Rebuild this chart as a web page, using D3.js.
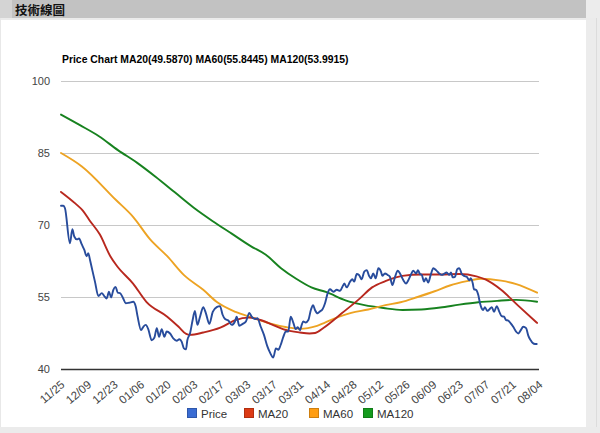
<!DOCTYPE html>
<html><head><meta charset="utf-8">
<script src="https://cdn.jsdelivr.net/npm/d3@7"></script>
<style>html,body{margin:0;padding:0;background:#fff;}svg{display:block;}</style>
</head><body>
<svg id="chart" width="600" height="433"></svg>
<script>
// ---- data ----
const headerText = "技術線圖";
const chartTitle = "Price Chart MA20(49.5870) MA60(55.8445) MA120(53.9915)";
const yTicks = [40, 55, 70, 85, 100];
const xTickLabels = ["11/25","12/09","12/23","01/06","01/20","02/03","02/17","03/03","03/17","03/31","04/14","04/28","05/12","05/26","06/09","06/23","07/07","07/21","08/04"];
const seriesNames = ["Price", "MA20", "MA60", "MA120"];

// days since 11/25
const priceDays = [0,1.2,2.1,4.7,6.0,7.0,8.4,9.5,10.9,12.3,13.5,14.4,15.3,16.5,17.9,19.7,21.5,22.8,24.1,25.3,26.4,27.6,28.8,29.9,31.1,32.8,34.1,35.9,38.1,39.4,40.4,42.2,43.4,44.7,46.0,47.8,49.2,50.5,51.7,53.1,54.5,55.7,57.5,59.2,61.0,62.4,63.6,64.8,65.9,66.6,68.0,69.4,70.6,71.9,73.3,75.0,76.4,78.2,80.0,82.1,83.8,85.2,86.5,88.2,90.0,91.7,92.6,94.0,95.8,97.5,99.3,100.5,102.3,103.5,105.3,107.0,108.8,110.2,111.9,113.3,114.6,115.8,117.2,118.6,119.8,121.1,122.5,123.7,124.8,126.0,126.9,127.7,129.0,130.4,131.8,132.9,133.9,135.3,136.5,137.8,139.2,140.6,141.8,143.6,145.4,147.1,148.3,149.4,150.6,152.4,153.6,154.6,155.9,157.1,158.5,159.9,161.2,162.4,163.4,164.6,165.9,167.3,168.7,169.4,170.8,172.2,173.4,174.7,176.1,177.5,178.7,180.5,181.9,183.1,184.4,185.7,187.2,188.2,189.2,190.2,191.4,192.4,193.6,194.9,196.3,197.7,199.4,200.7,201.9,203.3,204.7,205.6,206.5,207.7,208.9,210.0,211.3,212.5,213.9,215.3,216.0,217.1,217.7,218.8,220.0,220.9,221.8,222.6,223.5,224.7,225.8,227.1,228.3,229.7,231.1,232.3,233.6,234.6,235.8,237.1,238.4,239.9,241.1,242.4,243.7,245.2,246.4,247.6,248.7,249.9,250.8];
const priceValues = [74.0,74.0,73.5,66.2,69.1,67.6,67.0,67.2,66.0,64.8,63.5,64.1,62.7,60.6,58.2,55.2,55.8,55.2,54.7,56.1,54.9,56.5,57.1,55.9,55.8,54.7,53.7,53.8,54.0,53.0,50.9,48.1,48.8,49.2,48.3,46.0,46.5,48.5,46.7,48.3,46.7,47.8,47.4,46.4,45.9,46.2,45.7,44.3,44.1,46.0,47.4,50.2,52.1,49.2,50.9,52.9,51.6,49.4,51.9,52.9,53.1,51.3,50.4,50.1,49.2,49.9,50.9,49.0,49.4,49.9,51.7,50.9,50.4,50.6,48.8,47.1,44.7,43.4,42.4,44.3,44.0,45.0,46.7,47.8,47.8,50.9,49.6,48.3,48.7,48.1,49.2,49.9,49.7,50.2,52.4,53.3,52.3,51.6,52.0,52.4,53.7,55.8,56.6,56.1,56.5,56.3,57.1,57.8,57.0,58.2,58.7,58.2,59.8,59.6,58.7,60.3,60.6,59.4,58.9,59.9,58.9,61.0,60.3,59.4,59.9,59.6,59.2,57.5,59.2,60.5,59.9,58.5,57.8,58.5,59.6,60.5,59.9,60.6,59.8,59.6,58.2,58.9,58.0,59.6,61.0,60.6,59.9,59.6,59.8,60.1,59.6,60.1,59.1,59.2,60.8,61.0,59.8,59.4,59.2,58.5,58.9,57.8,56.6,56.5,55.4,53.7,52.6,52.3,52.9,52.1,52.4,52.9,51.9,53.1,51.9,51.0,50.9,50.2,50.1,49.5,48.8,47.8,47.4,48.1,48.8,48.5,46.9,46.0,45.4,45.2,45.2];

const ma20Days   = [0,7.5,11.5,15,20.5,26,29.4,38,45,56,62,66,68,75,84,92,99,106,111,117,126,131,134,138.5,148,157,164,171,180,190,200,210,219,224,232,241,251];
const ma20Values = [76.9,74.5,73.0,71.0,68.0,63.5,61.5,57.8,54.0,50.9,48.8,47.3,47.1,47.6,48.6,50.2,50.7,50.1,49.3,48.3,47.6,47.4,47.5,48.6,51.6,54.5,57.0,58.3,59.4,59.7,59.7,59.8,59.3,58.6,56.5,53.2,49.6];

const ma60Days   = [0,11,29,38,47,56,65,75,82,92,101,110,119,126,135,144,153,162,171,179,188,197,205,214,221,232,240,251];
const ma60Values = [85.0,82.2,75.2,71.7,67.0,63.5,59.5,56.5,54.0,51.9,50.7,49.5,48.7,48.4,49.0,50.5,51.7,52.4,53.3,53.9,55.0,56.2,57.4,58.3,58.8,58.4,57.7,55.9];

const ma120Days   = [0,10,20,30,40,50,60,70,80,90,100,108,116,124,132,140,150,160,170,180,190,200,210,220,230,240,251];
const ma120Values = [93.0,90.8,88.5,85.6,83.0,80.0,76.8,73.6,70.8,68.2,65.6,63.8,61.0,58.8,57.0,56.0,54.3,53.3,52.7,52.3,52.4,52.8,53.4,53.9,54.2,54.4,54.0];

const lineColors   = ["#284c9c", "#b8281e", "#eda323", "#17821f"];
const legendColors = ["#3a6cd3", "#dc3a14", "#ff9d12", "#149a1d"];

// ---- drawing ----
const svg = d3.select("#chart");
const W = 600, H = 433;

// page chrome
svg.append("rect").attr("x",0).attr("y",0).attr("width",W).attr("height",H).attr("fill","#ffffff");
svg.append("rect").attr("x",586).attr("y",0).attr("width",14).attr("height",H).attr("fill","#ececec");
svg.append("rect").attr("x",0).attr("y",0).attr("width",586).attr("height",18).attr("fill","#c2c2c2");
svg.append("rect").attr("x",0).attr("y",0).attr("width",12).attr("height",18).attr("fill","#d4d4d4");
svg.append("rect").attr("x",0).attr("y",18).attr("width",597).attr("height",2).attr("fill","#ebebeb");
svg.append("rect").attr("x",596).attr("y",18).attr("width",1).attr("height",H).attr("fill","#dcdcdc");
svg.append("rect").attr("x",0).attr("y",427).attr("width",W).attr("height",6).attr("fill","#ebebeb");
svg.append("rect").attr("x",0).attr("y",18).attr("width",1).attr("height",409).attr("fill","#e8e8e8");

svg.append("text").attr("x",15).attr("y",14.5)
  .attr("font-family","'Noto Sans CJK TC','Noto Sans CJK SC',sans-serif")
  .attr("font-weight","bold").attr("font-size","12.5px").attr("fill","#111")
  .text(headerText);

const x = d3.scaleLinear().domain([0, 252]).range([61, 539]);
const y = d3.scaleLinear().domain([40, 100]).range([369, 81]);

// title
svg.append("text").attr("x",62).attr("y",63)
  .attr("font-family","'Liberation Sans',Arial,sans-serif")
  .attr("font-weight","bold").attr("font-size","10.4px").attr("fill","#000")
  .text(chartTitle);

// gridlines via axis
const yAxis = d3.axisLeft(y).tickValues(yTicks).tickSize(-(539-61)).tickPadding(11).tickFormat(d3.format("d"));
const gy = svg.append("g").attr("transform","translate(61,0)").call(yAxis);
gy.select(".domain").remove();
gy.selectAll(".tick line").attr("stroke", d => d === 40 ? "#333" : "#c8c8c8").attr("stroke-width", d => d === 40 ? 1.6 : 1);
gy.selectAll(".tick text").attr("font-family","'Liberation Sans',Arial,sans-serif").attr("font-size","11px").attr("fill","#444");

// x axis labels
const tickDays = xTickLabels.map((d,i) => i*14);
const xAxis = d3.axisBottom(x).tickValues(tickDays).tickSize(0).tickFormat((d,i) => xTickLabels[i]);
const gx = svg.append("g").attr("transform","translate(0,369)").call(xAxis);
gx.select(".domain").remove();
gx.selectAll(".tick text")
  .attr("font-family","'Liberation Sans',Arial,sans-serif").attr("font-size","11.5px").attr("fill","#444")
  .attr("text-anchor","end").attr("dy",null).attr("y",0)
  .attr("transform","translate(4,17) rotate(-40)");

// lines
function drawLine(days, vals, color, curve) {
  const pts = days.map((d,i) => [d, vals[i]]);
  const line = d3.line().x(p => x(p[0])).y(p => y(p[1])).curve(curve);
  svg.append("path").datum(pts).attr("d", line)
    .attr("fill","none").attr("stroke",color).attr("stroke-width",1.9)
    .attr("stroke-linejoin","round").attr("stroke-linecap","round");
}
drawLine(ma120Days, ma120Values, lineColors[3], d3.curveMonotoneX);
drawLine(ma60Days, ma60Values, lineColors[2], d3.curveMonotoneX);
drawLine(ma20Days, ma20Values, lineColors[1], d3.curveMonotoneX);
drawLine(priceDays, priceValues, lineColors[0], d3.curveMonotoneX);

// legend
const legendX = [187, 244, 309, 363];
const lg = svg.append("g");
seriesNames.forEach((name, i) => {
  lg.append("rect").attr("x",legendX[i]+0.5).attr("y",408.5).attr("width",9).attr("height",9)
    .attr("fill",legendColors[i]).attr("stroke",d3.color(legendColors[i]).darker(0.6)).attr("stroke-width",1);
  lg.append("text").attr("x",legendX[i]+14).attr("y",417.5)
    .attr("font-family","'Liberation Sans',Arial,sans-serif").attr("font-size","11.5px").attr("fill","#333")
    .text(name);
});
</script>
</body></html>
